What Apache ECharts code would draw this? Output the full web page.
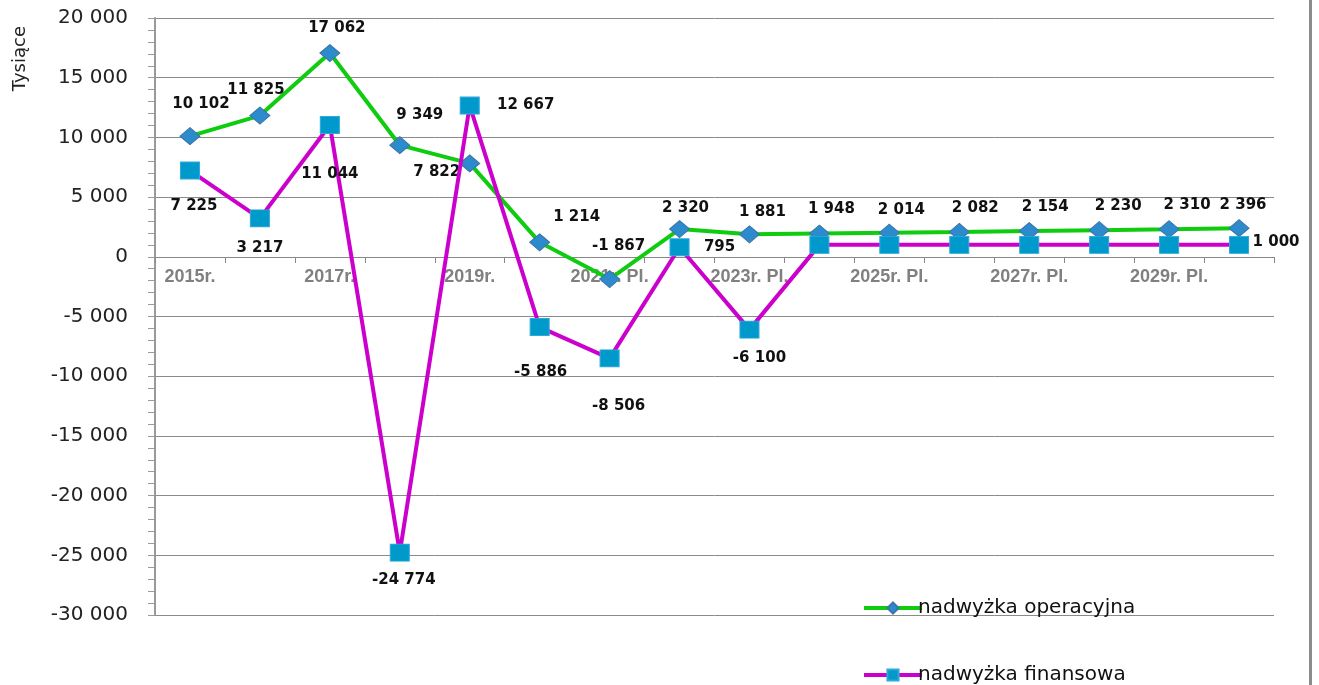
<!DOCTYPE html>
<html>
<head>
<meta charset="utf-8">
<script src="https://cdn.jsdelivr.net/npm/echarts@6/dist/echarts.min.js"></script>
<style>
  html, body { margin: 0; padding: 0; background: #fff; }
  #chart { width: 1319px; height: 685px; }
</style>
</head>
<body>
<div id="chart"></div>
<script>
// Data
const categories = ['2015r.', '2016r.', '2017r.', '2018r.', '2019r.', '2020r.', '2021r. Pl.', '2022r. Pl.',
    '2023r. Pl.', '2024r. Pl.', '2025r. Pl.', '2026r. Pl.', '2027r. Pl.', '2028r. Pl.', '2029r. Pl.', '2030r. Pl.'];
const operacyjna = [10102, 11825, 17062, 9349, 7822, 1214, -1867, 2320, 1881, 1948, 2014, 2082, 2154, 2230, 2310, 2396];
const finansowa = [7225, 3217, 11044, -24774, 12667, -5886, -8506, 795, -6100, 1000, 1000, 1000, 1000, 1000, 1000, 1000];
const seriesNames = ['nadwyżka operacyjna', 'nadwyżka finansowa'];

// label placement (layout only), null = no label
const opLabelOffsets = [[11, -32], [-4, -26], [7, -25], [20, -30], [-33, 9], [37, -25], [9, -33], [6, -21],
    [13, -22], [12, -24], [12, -23], [16, -24], [16, -24], [19, -24], [18, -24], [4, -23]];
const finLabelOffsets = [[4, 36], [0, 30], [0, 49], [4, 28], [56, 0], [1, 45], [9, 48], [40, 0],
    [10, 28], null, null, null, null, null, null, [37, -3]];

const fmt = v => String(v).replace(/\B(?=(\d{3})+(?!\d))/g, ' ');

const labelStyle = {
    fontFamily: 'DejaVu Sans',
    fontSize: 15,
    fontWeight: 'bold',
    color: '#111'
};

function buildData(values, offsets) {
    return values.map((v, i) => {
        const off = offsets[i];
        if (!off) return { value: v, label: { show: false } };
        return { value: v, label: { show: true, position: 'inside', offset: off } };
    });
}

const legendBase = {
    orient: 'vertical',
    left: 857,
    itemWidth: 58,
    itemHeight: 14,
    lineStyle: { width: 4 },
    textStyle: { fontFamily: 'DejaVu Sans', fontSize: 20, color: '#111', padding: [0, 0, 0, -9] }
};

const chart = echarts.init(document.getElementById('chart'));

const option = {
    animation: false,
    backgroundColor: '#fff',
    grid: { left: 155, right: 45, top: 18, bottom: 70 },
    graphic: [
        {
            type: 'text',
            left: 11,
            top: 26,
            rotation: Math.PI / 2,
            style: { text: 'Tysiące', fontFamily: 'DejaVu Sans', fontSize: 18, fill: '#222' }
        },
        {
            type: 'rect',
            shape: { x: 1309, y: 0, width: 3, height: 685 },
            style: { fill: '#8c8c8c' }
        }
    ],
    legend: [
        Object.assign({ top: 593, data: [seriesNames[0]] }, legendBase),
        Object.assign({ top: 660, data: [seriesNames[1]] }, legendBase)
    ],
    xAxis: {
        type: 'category',
        data: categories,
        boundaryGap: true,
        offset: -358,
        axisLine: { onZero: false, lineStyle: { color: '#888', width: 1 } },
        axisTick: { show: true, interval: 0, length: 6, lineStyle: { color: '#888' } },
        axisLabel: {
            interval: 1,
            margin: 11,
            fontFamily: 'Liberation Sans',
            fontSize: 18,
            fontWeight: 'bold',
            color: '#808080'
        },
        splitLine: { show: false }
    },
    yAxis: {
        type: 'value',
        min: -30000,
        max: 20000,
        interval: 5000,
        axisLine: { show: true, lineStyle: { color: '#999', width: 2 } },
        axisTick: { show: true, length: 7, lineStyle: { color: '#999' } },
        minorTick: { show: true, splitNumber: 5, length: 7, lineStyle: { color: '#999' } },
        axisLabel: {
            margin: 27,
            fontFamily: 'DejaVu Sans',
            fontSize: 20,
            color: '#222',
            formatter: v => fmt(v)
        },
        splitLine: { show: true, lineStyle: { color: '#8a8a8a', width: 1 } }
    },
    series: [
        {
            name: seriesNames[0],
            type: 'line',
            data: buildData(operacyjna, opLabelOffsets),
            symbol: 'diamond',
            symbolSize: [20, 17],
            lineStyle: { color: '#10cc10', width: 4 },
            itemStyle: { color: '#2b8bcc', borderColor: '#3f73a8', borderWidth: 1 },
            label: Object.assign({ formatter: p => fmt(p.value) }, labelStyle),
            z: 3
        },
        {
            name: seriesNames[1],
            type: 'line',
            data: buildData(finansowa, finLabelOffsets),
            symbol: 'rect',
            symbolSize: [19, 17],
            lineStyle: { color: '#cc00cc', width: 4 },
            itemStyle: { color: '#0099cc', borderColor: '#2fa9d6', borderWidth: 1 },
            label: Object.assign({ formatter: p => fmt(p.value) }, labelStyle),
            z: 4
        }
    ]
};

chart.setOption(option);
</script>
</body>
</html>
